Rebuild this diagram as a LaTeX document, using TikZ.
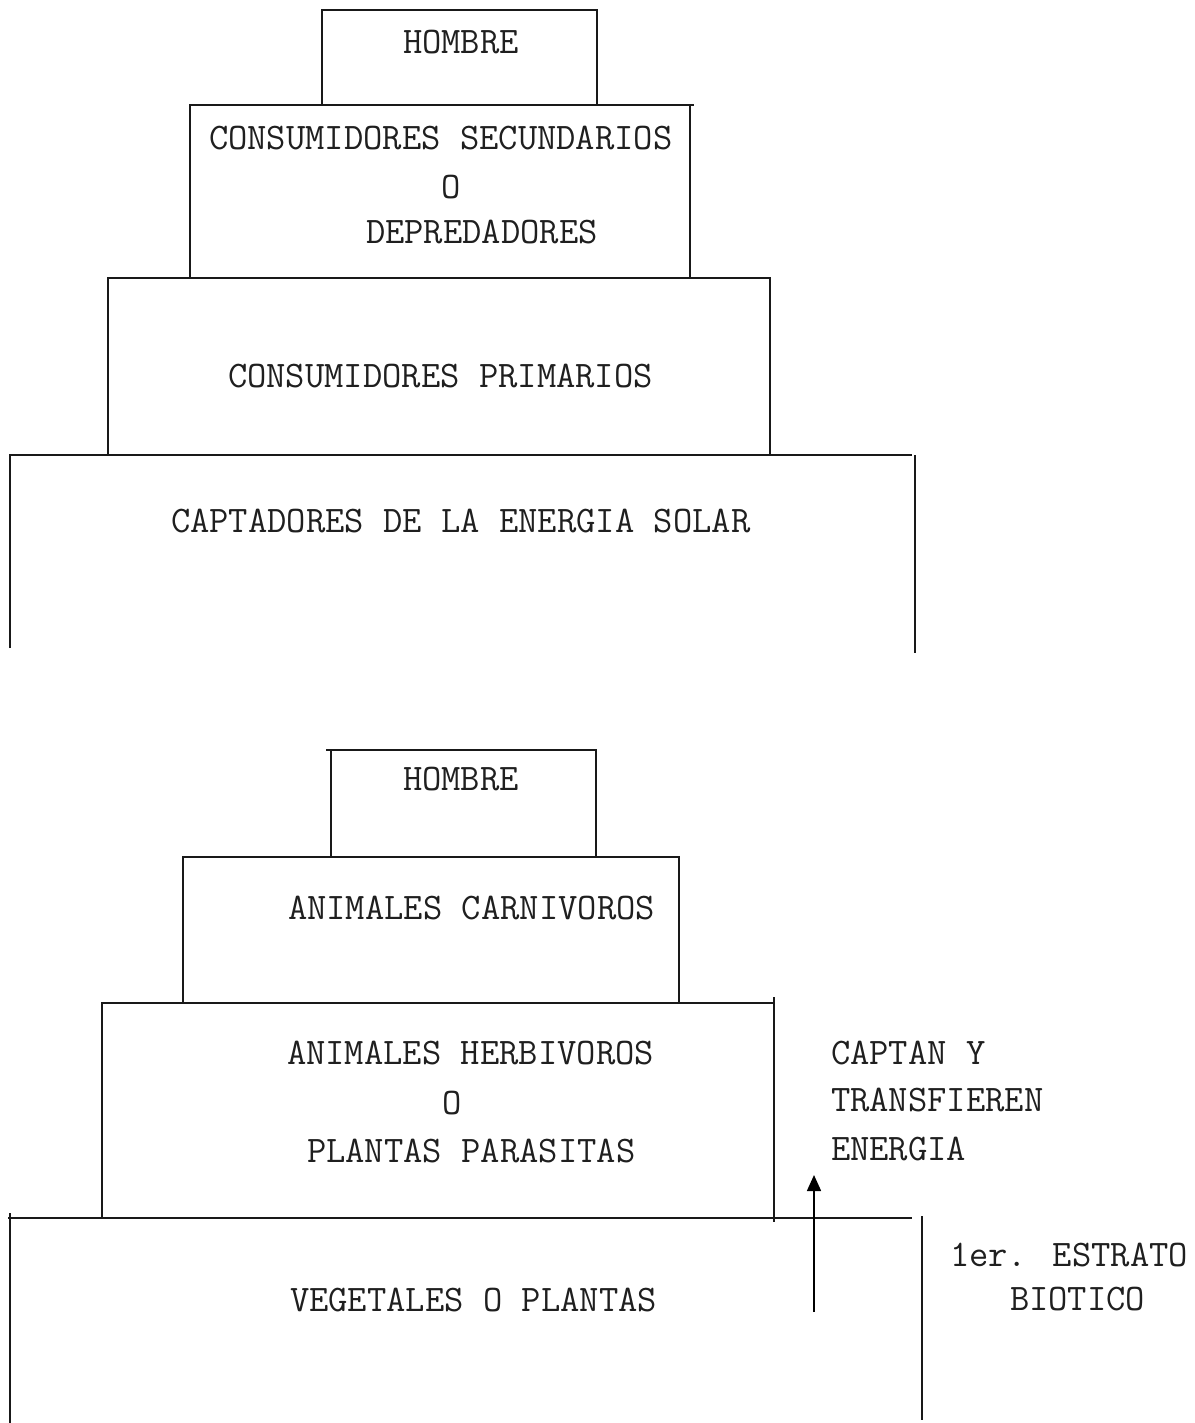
\documentclass[tikz,border=0pt]{standalone}
\usepackage{fontspec}
\usetikzlibrary{arrows.meta}
\begin{document}
\begin{tikzpicture}[x=1pt,y=-1pt,
  lbl/.style={anchor=west,inner sep=0pt,outer sep=0pt,text=black!88,font=\ttfamily\fontsize{37.5}{45}\selectfont},
  edge/.style={line width=1.5pt,black!90},
  flow/.style={line width=1.6pt,black,-{Triangle[width=14pt,length=16pt]}}]
\useasboundingbox (0,0) rectangle (1194,1423);
% ---------- top pyramid ----------
\draw[edge] (322,105) -- (322,10) -- (597,10) -- (597,105);
\draw[edge] (190,278) -- (190,105) -- (694,105);
\draw[edge] (690,105) -- (690,278);
\draw[edge] (108,455) -- (108,278) -- (770,278) -- (770,455);
\draw[edge] (10,648) -- (10,455) -- (912,455);
\draw[edge] (915,455) -- (915,653);
\node[lbl] (t1) at (403,42) {HOMBRE};
\node[lbl] (t2a) at (209,138) {CONSUMIDORES SECUNDARIOS};
\node[lbl] (t2b) at (441,187) {O};
\node[lbl] (t2c) at (366,232) {DEPREDADORES};
\node[lbl] (t3) at (228,376) {CONSUMIDORES PRIMARIOS};
\node[lbl] (t4) at (171,521) {CAPTADORES DE LA ENERGIA SOLAR};
% ---------- bottom pyramid ----------
\draw[edge] (331,857) -- (331,750);
\draw[edge] (326,750) -- (597,750);
\draw[edge] (596,750) -- (596,857);
\draw[edge] (183,1003) -- (183,857) -- (679,857) -- (679,1003);
\draw[edge] (102,1218) -- (102,1003) -- (774,1003);
\draw[edge] (774,997) -- (774,1222);
\draw[edge] (8,1218) -- (912,1218);
\draw[edge] (10,1213) -- (10,1423);
\draw[edge] (922,1216) -- (922,1420);
\node[lbl] (b1) at (403,779) {HOMBRE};
\node[lbl] (b2) at (288,908) {ANIMALES CARNIVOROS};
\node[lbl] (b3a) at (287,1053) {ANIMALES HERBIVOROS};
\node[lbl] (b3b) at (442,1103) {O};
\node[lbl] (b3c) at (307,1151) {PLANTAS PARASITAS};
\node[lbl] (b4) at (290,1300) {VEGETALES O PLANTAS};
\node[lbl] (s1) at (831,1053) {CAPTAN Y};
\node[lbl] (s2) at (831,1100) {TRANSFIEREN};
\node[lbl] (s3) at (831,1149) {ENERGIA};
\node[lbl] (e1) at (950,1255) {1er. ESTRATO};
\node[lbl] (e2) at (1010,1299) {BIOTICO};
\coordinate (arrowfoot) at (814,1312);
\coordinate (arrowtip) at (814,1175);
\draw[flow] (arrowfoot) -- (arrowtip);
\end{tikzpicture}
\end{document}
